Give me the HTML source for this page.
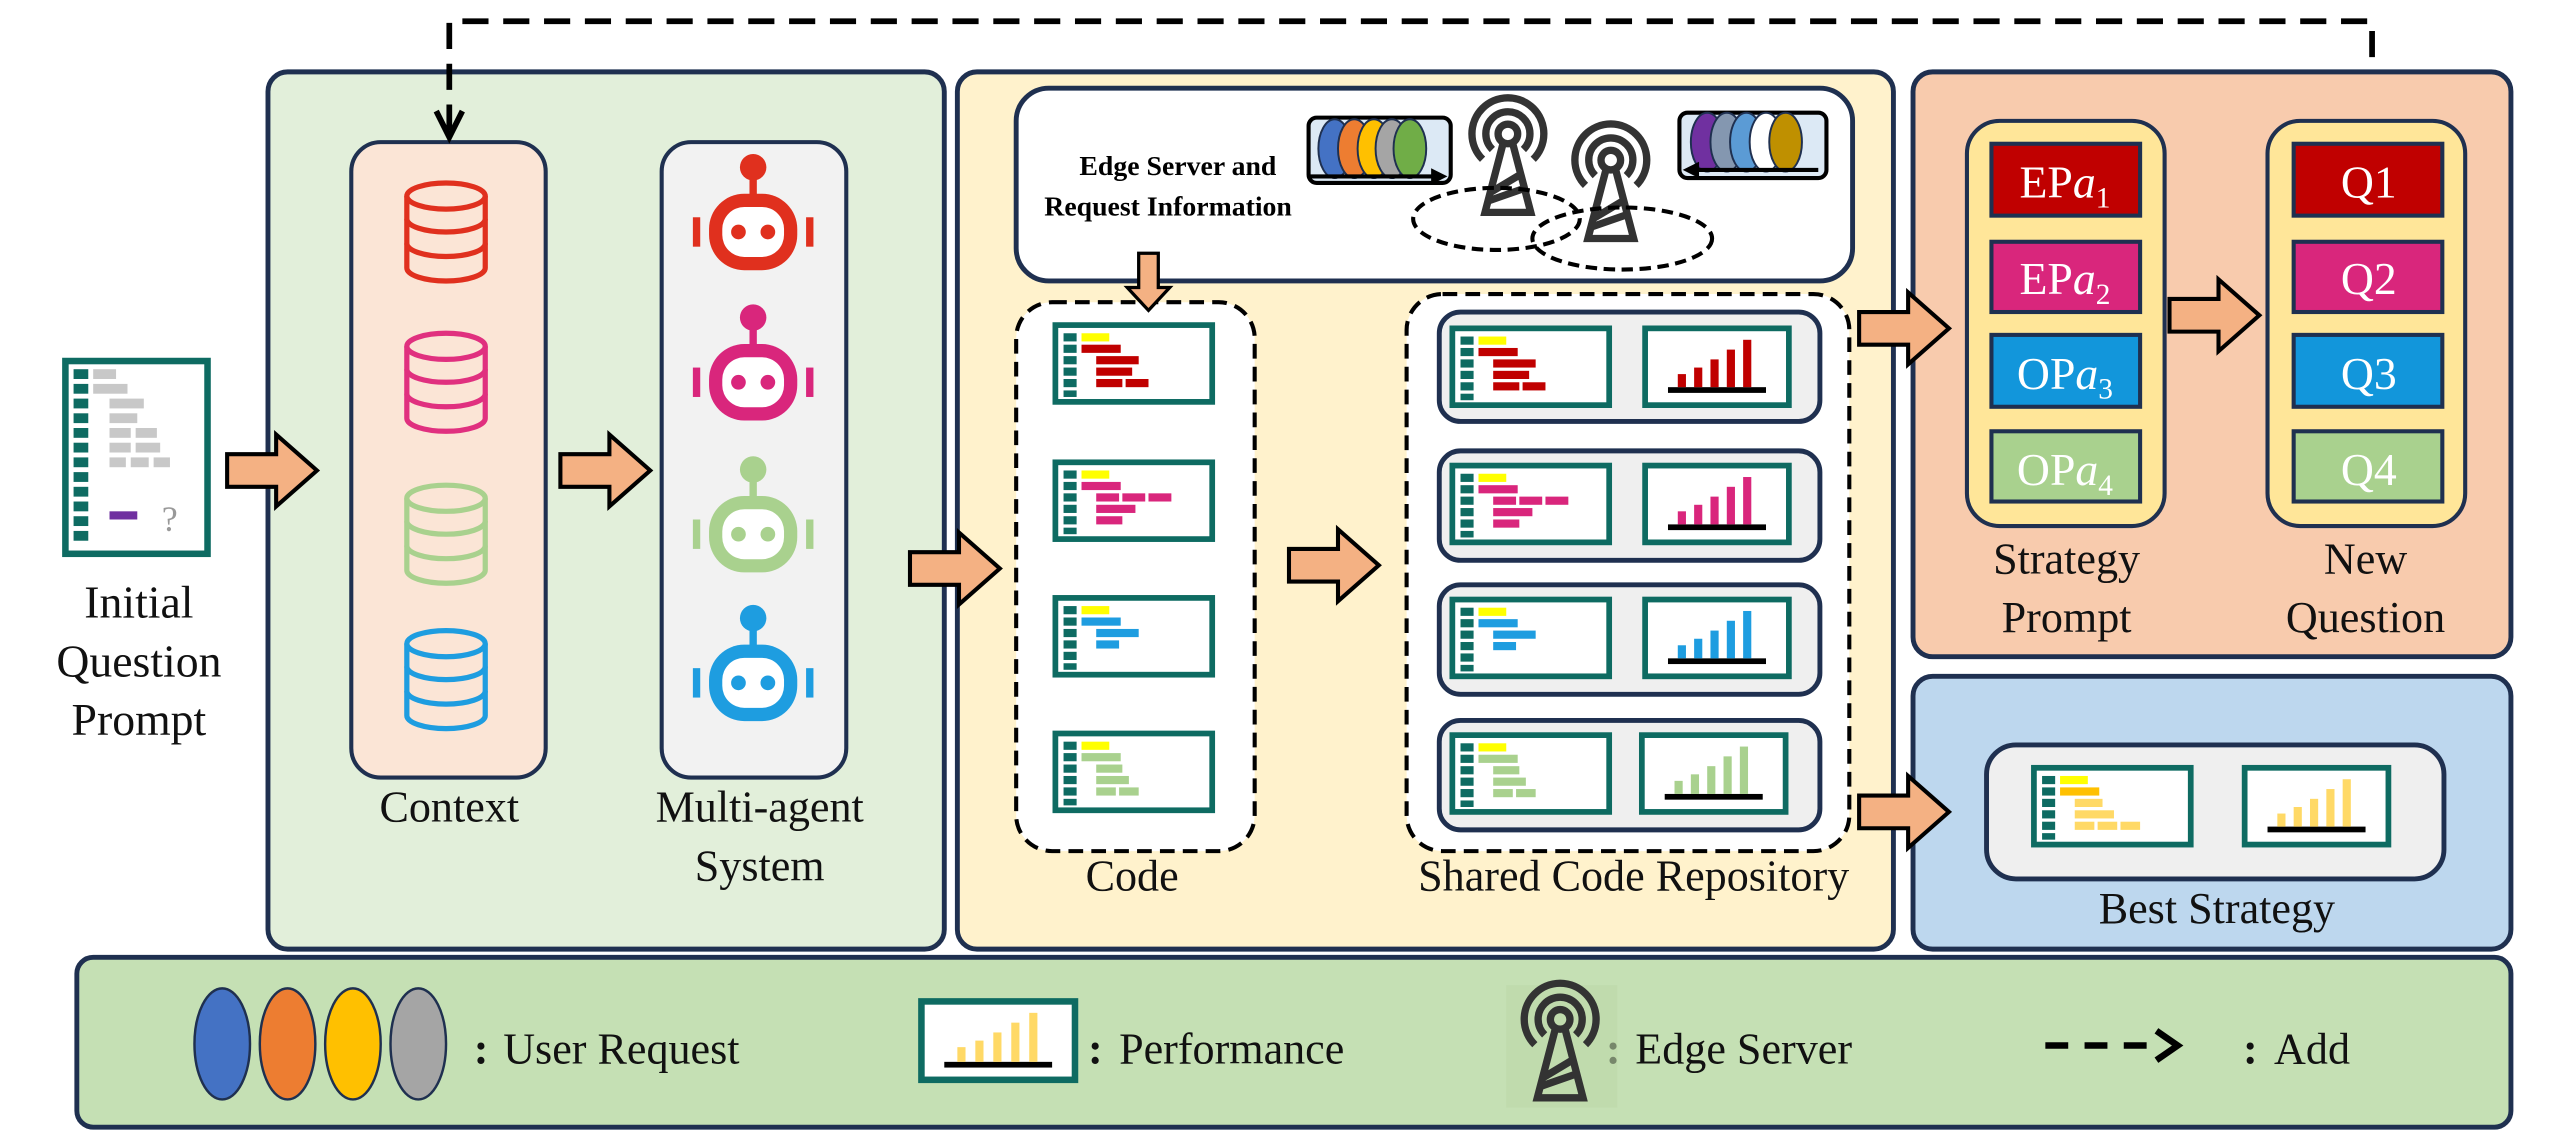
<!DOCTYPE html>
<html><head><meta charset="utf-8"><style>
html,body{margin:0;padding:0;background:#fff;}
svg{display:block;}
text{font-family:"Liberation Serif",serif;}
</style></head><body>
<svg width="2560" height="1137" viewBox="0 0 1567 696" xmlns="http://www.w3.org/2000/svg">
<defs>
<g id="arrow"><path d="M0,-10 H30 V-22 L55,0 L30,22 V10 H0 Z" fill="#f4b183" stroke="#000" stroke-width="2.5" stroke-linejoin="miter"/></g>
<g id="db" fill="none" stroke-width="3.2">
<ellipse cx="0" cy="-22" rx="24" ry="8"/>
<path d="M-24,-22 V22 A24,8 0 0 0 24,22 V-22"/>
<path d="M-24,-8 A24,8 0 0 0 24,-8"/>
<path d="M-24,7 A24,8 0 0 0 24,7"/>
</g>
<g id="robot">
<rect x="-30" y="-26" width="60" height="52" rx="24"/>
<rect x="-21" y="-17" width="42" height="34" rx="15" fill="#fff"/>
<circle cx="-10" cy="0" r="5"/><circle cx="10" cy="0" r="5"/>
<rect x="-2.5" y="-38" width="5" height="14"/>
<circle cx="0" cy="-44" r="9"/>
<rect x="-41" y="-10" width="5" height="20"/><rect x="36" y="-10" width="5" height="20"/>
</g>
<g id="codeframe">
<rect x="0" y="0" width="96" height="47" fill="#fff" stroke="#0e6b62" stroke-width="3.5"/>
<g fill="#0e6b62"><rect x="5" y="5" width="8" height="5"/><rect x="5" y="12" width="8" height="5"/><rect x="5" y="19" width="8" height="5"/><rect x="5" y="26" width="8" height="5"/><rect x="5" y="33" width="8" height="5"/><rect x="5" y="40" width="8" height="4"/></g>
<rect x="16" y="5" width="17" height="5" fill="#ffff00"/>
</g>
<g id="bars1"><rect x="16" y="12" width="24" height="5"/><rect x="25" y="19" width="26" height="5"/><rect x="25" y="26" width="22" height="5"/><rect x="25" y="33" width="16" height="5"/><rect x="43" y="33" width="14" height="5"/></g>
<g id="bars2"><rect x="16" y="12" width="24" height="5"/><rect x="25" y="19" width="14" height="5"/><rect x="41" y="19" width="14" height="5"/><rect x="57" y="19" width="14" height="5"/><rect x="25" y="26" width="24" height="5"/><rect x="25" y="33" width="16" height="5"/></g>
<g id="bars3"><rect x="16" y="12" width="24" height="5"/><rect x="25" y="19" width="26" height="5"/><rect x="25" y="26" width="14" height="5"/></g>
<g id="bars4"><rect x="16" y="12" width="24" height="5"/><rect x="25" y="19" width="16" height="5"/><rect x="25" y="26" width="20" height="5"/><rect x="25" y="33" width="12" height="5"/><rect x="39" y="33" width="12" height="5"/></g>
<g id="chartframe"><rect x="0" y="0" width="88" height="47" fill="#fff" stroke="#0e6b62" stroke-width="3.5"/><rect x="14" y="36" width="60" height="3.5" fill="#000"/></g>
<g id="cbars"><rect x="20" y="28" width="5" height="8"/><rect x="30" y="24" width="5" height="12"/><rect x="40" y="19" width="5" height="17"/><rect x="50" y="13" width="5" height="23"/><rect x="60" y="7" width="5" height="29"/></g>
<g id="tower" fill="none" stroke="#333" stroke-width="4.5">
<circle cx="0" cy="0" r="6"/>
<path d="M-9.5,9.5 A13.5,13.5 0 1 1 9.5,9.5"/>
<path d="M-15.5,15.5 A22,22 0 1 1 15.5,15.5"/>
<path d="M-3,6 L-14,48 H14 L3,6 M-11,36 L9,24 M-12,41 L11,33"/>
</g>
</defs>

<!-- initial prompt -->
<rect x="40" y="221" width="87" height="118" fill="#fff" stroke="#0e6b62" stroke-width="4"/>
<g fill="#0e6b62"><rect x="45" y="226" width="9" height="6"/><rect x="45" y="235" width="9" height="6"/><rect x="45" y="244" width="9" height="6"/><rect x="45" y="253" width="9" height="6"/><rect x="45" y="262" width="9" height="6"/><rect x="45" y="271" width="9" height="6"/><rect x="45" y="280" width="9" height="6"/><rect x="45" y="289" width="9" height="6"/><rect x="45" y="298" width="9" height="6"/><rect x="45" y="307" width="9" height="6"/><rect x="45" y="316" width="9" height="6"/><rect x="45" y="325" width="9" height="6"/></g>
<g fill="#c8c8c8"><rect x="57" y="226" width="14" height="6"/><rect x="57" y="235" width="21" height="6"/><rect x="67" y="244" width="21" height="6"/><rect x="67" y="253" width="17" height="6"/><rect x="67" y="262" width="13" height="6"/><rect x="83" y="262" width="13" height="6"/><rect x="67" y="271" width="13" height="6"/><rect x="83" y="271" width="15" height="6"/><rect x="67" y="280" width="10" height="6"/><rect x="80" y="280" width="11" height="6"/><rect x="94" y="280" width="10" height="6"/></g>
<rect x="67" y="313" width="17" height="5" fill="#7030a0"/>
<text x="99" y="325" font-size="22" fill="#999" font-family="Liberation Sans, sans-serif">?</text>
<g font-size="28" text-anchor="middle" fill="#111"><text x="85" y="378">Initial</text><text x="85" y="414">Question</text><text x="85" y="450">Prompt</text></g>

<!-- green panel -->
<rect x="164" y="44" width="414" height="537" rx="12" fill="#e2efda" stroke="#1f3050" stroke-width="3"/>
<rect x="215" y="87" width="119" height="389" rx="18" fill="#fbe5d6" stroke="#1f3050" stroke-width="2.5"/>
<use href="#db" x="273" y="142" stroke="#e0301e"/>
<use href="#db" x="273" y="234" stroke="#e0307f"/>
<use href="#db" x="273" y="327" stroke="#a9d18e"/>
<use href="#db" x="273" y="416" stroke="#1e9de0"/>
<text x="275" y="503" font-size="27" text-anchor="middle" fill="#111">Context</text>
<rect x="405" y="87" width="113" height="389" rx="18" fill="#f2f2f2" stroke="#1f3050" stroke-width="2.5"/>
<use href="#robot" transform="translate(461,142) scale(0.9)" fill="#e0301e"/>
<use href="#robot" transform="translate(461,234) scale(0.9)" fill="#d9267c"/>
<use href="#robot" transform="translate(461,327) scale(0.9)" fill="#a9d18e"/>
<use href="#robot" transform="translate(461,418) scale(0.9)" fill="#1e9de0"/>
<g font-size="27" text-anchor="middle" fill="#111"><text x="465" y="503">Multi-agent</text><text x="465" y="539">System</text></g>

<!-- yellow panel -->
<rect x="586" y="44" width="573" height="537" rx="12" fill="#fff2cc" stroke="#1f3050" stroke-width="3"/>
<rect x="622" y="54" width="512" height="118" rx="20" fill="#fff" stroke="#1f3050" stroke-width="3"/>
<g font-size="17" font-weight="bold" text-anchor="middle" fill="#000"><text x="721" y="107">Edge Server and</text><text x="715" y="132">Request Information</text></g>
<rect x="801" y="72" width="87" height="40" rx="5" fill="#dce9f5" stroke="#000" stroke-width="2.5"/>
<g stroke="#1f3050" stroke-width="1.2"><ellipse cx="817" cy="91" rx="10" ry="18" fill="#4472c4"/><ellipse cx="829" cy="91" rx="10" ry="18" fill="#ed7d31"/><ellipse cx="841" cy="91" rx="10" ry="18" fill="#ffc000"/><ellipse cx="852" cy="91" rx="10" ry="18" fill="#a5a5a5"/><ellipse cx="863" cy="91" rx="10" ry="18" fill="#70ad47"/></g>
<path d="M802,108 H880" stroke="#000" stroke-width="2.5"/><path d="M876,103 L886,108 L876,113 Z" fill="#000"/>
<rect x="1028" y="69" width="90" height="40" rx="5" fill="#dce9f5" stroke="#000" stroke-width="2.5"/>
<g stroke="#1f3050" stroke-width="1.2"><ellipse cx="1045" cy="87" rx="10" ry="18" fill="#7030a0"/><ellipse cx="1057" cy="87" rx="10" ry="18" fill="#8497b0"/><ellipse cx="1069" cy="87" rx="10" ry="18" fill="#5b9bd5"/><ellipse cx="1081" cy="87" rx="10" ry="18" fill="#fff"/><ellipse cx="1093" cy="87" rx="10" ry="18" fill="#bf9000"/></g>
<path d="M1036,104 H1113" stroke="#000" stroke-width="2.5"/><path d="M1040,99 L1030,104 L1040,109 Z" fill="#000"/>
<use href="#tower" x="923" y="82"/>
<use href="#tower" x="986" y="98"/>
<ellipse cx="916" cy="134" rx="51" ry="19" fill="none" stroke="#000" stroke-width="2.5" stroke-dasharray="7,4"/>
<ellipse cx="993" cy="146" rx="55" ry="19" fill="none" stroke="#000" stroke-width="2.5" stroke-dasharray="7,4"/>

<rect x="622" y="185" width="146" height="336" rx="22" fill="#fff" stroke="#000" stroke-width="2.5" stroke-dasharray="9,5"/>
<path d="M697,155 H709 V176 H716 L703,190 L690,176 H697 Z" fill="#f4b183" stroke="#000" stroke-width="2"/>
<use href="#codeframe" x="646" y="199"/><use href="#bars1" x="646" y="199" fill="#c00000"/>
<use href="#codeframe" x="646" y="283"/><use href="#bars2" x="646" y="283" fill="#d9267c"/>
<use href="#codeframe" x="646" y="366"/><use href="#bars3" x="646" y="366" fill="#1e9de0"/>
<use href="#codeframe" x="646" y="449"/><use href="#bars4" x="646" y="449" fill="#a9d18e"/>
<text x="693" y="545" font-size="27" text-anchor="middle" fill="#111">Code</text>

<rect x="861" y="180" width="271" height="341" rx="22" fill="#fff" stroke="#000" stroke-width="2.5" stroke-dasharray="9,5"/>
<g>
<rect x="881" y="191" width="233" height="67" rx="13" fill="#efefef" stroke="#1f3050" stroke-width="3"/>
<use href="#codeframe" x="889" y="201"/><use href="#bars1" x="889" y="201" fill="#c00000"/>
<use href="#chartframe" x="1007" y="201"/><use href="#cbars" x="1007" y="201" fill="#c00000"/>
<rect x="881" y="276" width="233" height="67" rx="13" fill="#efefef" stroke="#1f3050" stroke-width="3"/>
<use href="#codeframe" x="889" y="285"/><use href="#bars2" x="889" y="285" fill="#d9267c"/>
<use href="#chartframe" x="1007" y="285"/><use href="#cbars" x="1007" y="285" fill="#d9267c"/>
<rect x="881" y="358" width="233" height="67" rx="13" fill="#efefef" stroke="#1f3050" stroke-width="3"/>
<use href="#codeframe" x="889" y="367"/><use href="#bars3" x="889" y="367" fill="#1e9de0"/>
<use href="#chartframe" x="1007" y="367"/><use href="#cbars" x="1007" y="367" fill="#1e9de0"/>
<rect x="881" y="441" width="233" height="67" rx="13" fill="#efefef" stroke="#1f3050" stroke-width="3"/>
<use href="#codeframe" x="889" y="450"/><use href="#bars4" x="889" y="450" fill="#a9d18e"/>
<use href="#chartframe" x="1005" y="450"/><use href="#cbars" x="1005" y="450" fill="#a9d18e"/>
</g>
<text x="1000" y="545" font-size="27" text-anchor="middle" fill="#111">Shared Code Repository</text>

<!-- orange panel -->
<rect x="1171" y="44" width="366" height="358" rx="12" fill="#f8cbad" stroke="#1f3050" stroke-width="3"/>
<rect x="1204" y="74" width="121" height="248" rx="20" fill="#ffe699" stroke="#1f3050" stroke-width="2.5"/>
<g stroke="#1f3050" stroke-width="2.5">
<rect x="1219" y="88" width="91" height="44" fill="#c00000"/>
<rect x="1219" y="148" width="91" height="43" fill="#d9267c"/>
<rect x="1219" y="205" width="91" height="44" fill="#1296db"/>
<rect x="1219" y="264" width="91" height="43" fill="#a9d18e"/>
</g>
<g font-size="28" fill="#fff" text-anchor="middle">
<text x="1264" y="121">EP<tspan font-style="italic">a</tspan><tspan font-size="18" dy="6">1</tspan></text>
<text x="1264" y="180">EP<tspan font-style="italic">a</tspan><tspan font-size="18" dy="6">2</tspan></text>
<text x="1264" y="238">OP<tspan font-style="italic">a</tspan><tspan font-size="18" dy="6">3</tspan></text>
<text x="1264" y="297">OP<tspan font-style="italic">a</tspan><tspan font-size="18" dy="6">4</tspan></text>
</g>
<g font-size="27" text-anchor="middle" fill="#111"><text x="1265" y="351">Strategy</text><text x="1265" y="387">Prompt</text></g>
<rect x="1388" y="74" width="121" height="248" rx="20" fill="#ffe699" stroke="#1f3050" stroke-width="2.5"/>
<g stroke="#1f3050" stroke-width="2.5">
<rect x="1404" y="88" width="91" height="44" fill="#c00000"/>
<rect x="1404" y="148" width="91" height="43" fill="#d9267c"/>
<rect x="1404" y="205" width="91" height="44" fill="#1296db"/>
<rect x="1404" y="264" width="91" height="43" fill="#a9d18e"/>
</g>
<g font-size="28" fill="#fff" text-anchor="middle">
<text x="1450" y="121">Q1</text><text x="1450" y="180">Q2</text><text x="1450" y="238">Q3</text><text x="1450" y="297">Q4</text>
</g>
<g font-size="27" text-anchor="middle" fill="#111"><text x="1448" y="351">New</text><text x="1448" y="387">Question</text></g>

<!-- blue panel -->
<rect x="1171" y="414" width="366" height="167" rx="12" fill="#bdd7ee" stroke="#1f3050" stroke-width="3"/>
<rect x="1216" y="456" width="280" height="82" rx="18" fill="#efefef" stroke="#1f3050" stroke-width="3"/>
<g transform="translate(1245,470)">
<rect x="0" y="0" width="96" height="47" fill="#fff" stroke="#0e6b62" stroke-width="3.5"/>
<g fill="#0e6b62"><rect x="5" y="5" width="8" height="5"/><rect x="5" y="12" width="8" height="5"/><rect x="5" y="19" width="8" height="5"/><rect x="5" y="26" width="8" height="5"/><rect x="5" y="33" width="8" height="5"/><rect x="5" y="40" width="8" height="4"/></g>
<rect x="16" y="5" width="17" height="5" fill="#ffff00"/>
<g fill="#ffc000"><rect x="16" y="12" width="24" height="5"/></g>
<g fill="#ffd966"><rect x="25" y="19" width="17" height="5"/><rect x="25" y="26" width="24" height="5"/><rect x="25" y="33" width="12" height="5"/><rect x="39" y="33" width="12" height="5"/><rect x="53" y="33" width="12" height="5"/></g>
</g>
<use href="#chartframe" x="1374" y="470"/><use href="#cbars" x="1374" y="470" fill="#ffd966"/>
<text x="1357" y="565" font-size="27" text-anchor="middle" fill="#111">Best Strategy</text>

<!-- legend -->
<rect x="47" y="586" width="1490" height="104" rx="10" fill="#c5e0b4" stroke="#1f3050" stroke-width="3"/>
<g stroke="#1f3050" stroke-width="1.5">
<ellipse cx="136" cy="639" rx="17" ry="34" fill="#4472c4"/>
<ellipse cx="176" cy="639" rx="17" ry="34" fill="#ed7d31"/>
<ellipse cx="216" cy="639" rx="17" ry="34" fill="#ffc000"/>
<ellipse cx="256" cy="639" rx="17" ry="34" fill="#a5a5a5"/>
</g>
<g font-size="27" fill="#111">
<text x="290" y="651" font-weight="bold">:</text><text x="308" y="651">User Request</text>
<text x="666" y="651" font-weight="bold">:</text><text x="685" y="651">Performance</text>
<text x="983" y="651" font-weight="bold">:</text><text x="1001" y="651">Edge Server</text>
<text x="1373" y="651" font-weight="bold">:</text><text x="1392" y="651">Add</text>
</g>
<g transform="translate(564,613)">
<rect x="0" y="0" width="94" height="48" fill="#fff" stroke="#0e6b62" stroke-width="4"/>
<rect x="14" y="37" width="66" height="3.5" fill="#000"/>
<g fill="#ffd966"><rect x="22" y="28" width="5" height="9"/><rect x="33" y="24" width="5" height="13"/><rect x="44" y="19" width="5" height="18"/><rect x="55" y="13" width="5" height="24"/><rect x="66" y="7" width="5" height="30"/></g>
</g>
<rect x="922" y="603" width="68" height="75" fill="#bcd7a9" opacity="0.6"/>
<use href="#tower" x="955" y="624"/>
<path d="M1252,640 H1322" stroke="#000" stroke-width="4" stroke-dasharray="14,10"/>
<path d="M1320,631 L1333,640 L1320,649" fill="none" stroke="#000" stroke-width="4"/>

<!-- arrows on top -->
<use href="#arrow" x="139" y="288"/>
<use href="#arrow" x="343" y="288"/>
<use href="#arrow" x="557" y="348"/>
<use href="#arrow" x="789" y="346"/>
<use href="#arrow" x="1138" y="201"/>
<use href="#arrow" x="1138" y="497"/>
<use href="#arrow" x="1328" y="193"/>

<!-- top dashed feedback line -->
<path d="M275,80 V13 H1452 V43" fill="none" stroke="#000" stroke-width="3.5" stroke-dasharray="16,9"/>
<path d="M267,68 L275,84 L283,68" fill="none" stroke="#000" stroke-width="3.5"/>
</svg>
</body></html>
